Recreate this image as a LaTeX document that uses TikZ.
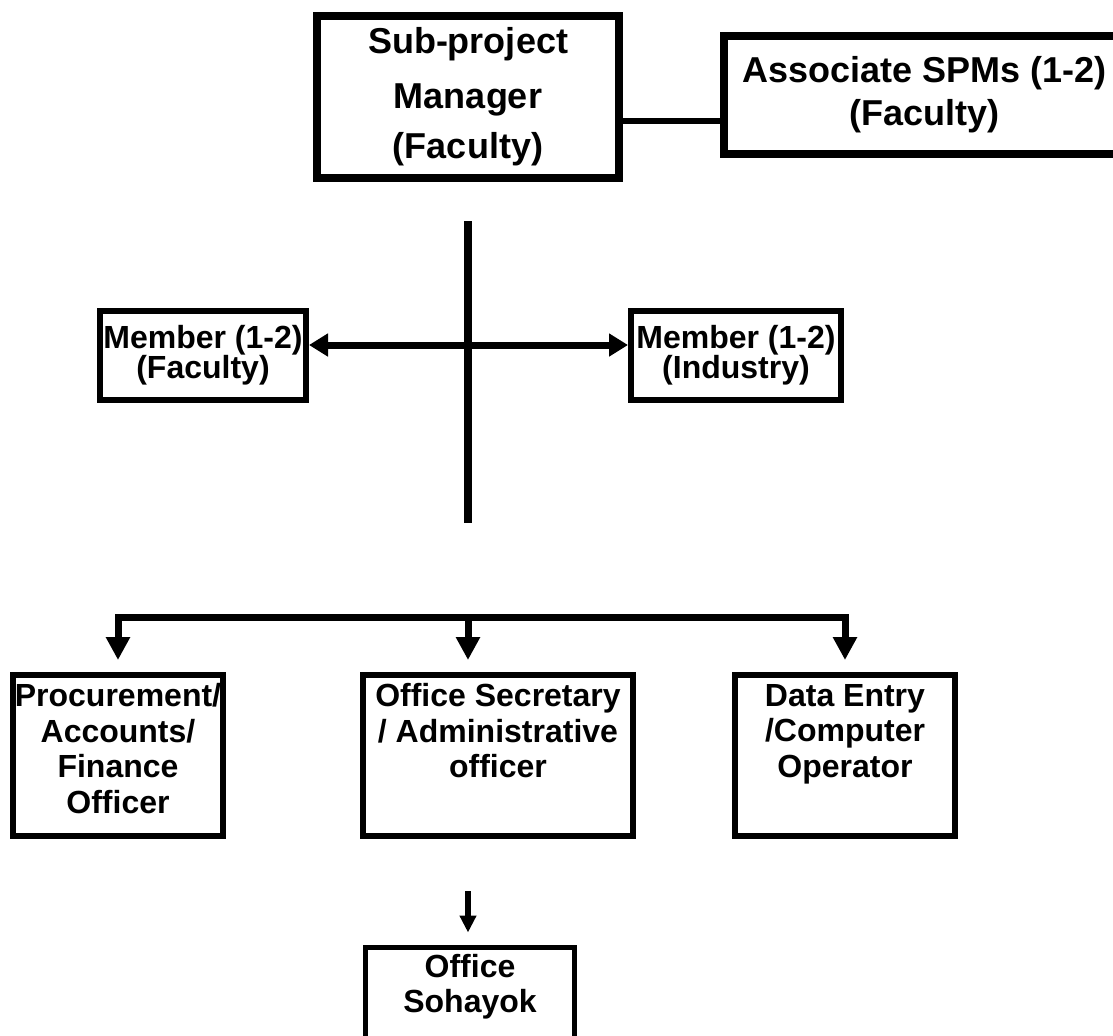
\documentclass[tikz,border=0pt]{standalone}
\usepackage{fontspec}
\setmainfont{Liberation Sans}
\usetikzlibrary{arrows.meta}

\begin{document}
\begin{tikzpicture}[x=0.5pt, y=-0.5pt,
    bx/.style={rectangle, draw=black, align=center, inner xsep=1pt,
               inner ysep=2pt, font=\bfseries},
    topbx/.style={bx, line width=4pt,
                  font=\fontsize{18pt}{25pt}\selectfont\bfseries},
    membx/.style={bx, line width=3pt, minimum height=44.5pt,
                  font=\fontsize{16pt}{15pt}\selectfont\bfseries},
    staffbx/.style={bx, line width=3pt, minimum height=80.5pt,
                    font=\fontsize{16pt}{17.75pt}\selectfont\bfseries},
    link/.style={draw=black, line width=3pt},
    arr/.style={-{Triangle[length=11.5pt, width=11.5pt]}, line width=3.5pt,
                line join=miter, shorten >=6pt},
    dblarr/.style={{Triangle[length=9.5pt, width=11pt]}-{Triangle[length=9.5pt, width=11pt]},
                   line width=3.5pt}
  ]
  \useasboundingbox (0,0) rectangle (1113,1035);

  % top level
  \node[topbx, minimum width=151pt, minimum height=81pt]
        (spm)   at (468,97)    {Sub-project\\[2.5pt]Manager\\(Faculty)};
  \node[topbx, minimum width=200.5pt, minimum height=59pt,
        font=\fontsize{18pt}{21.5pt}\selectfont\bfseries]
        (assoc) at (924.5,95)  {Associate SPMs (1-2)\\(Faculty)};
  \coordinate (tie) at (670,121);
  \draw[link] (spm.east |- tie) -- (assoc.west |- tie);

  % committee members
  \coordinate (spinetop) at (468,221);
  \coordinate (spinebot) at (468,523);
  \draw[link, line width=4pt] (spinetop) -- (spinebot);

  \node[membx, minimum width=103pt]
        (memfac) at (203,355.5) {Member (1-2)\\(Faculty)};
  \node[membx, minimum width=105pt]
        (memind) at (736,355.5) {Member (1-2)\\(Industry)};
  \coordinate (cross) at (468,345);
  \draw[dblarr] (memfac.east |- cross) -- (memind.west |- cross);

  % staff
  \node[staffbx, minimum width=105pt, text depth=6.9pt]
        (procure) at (118,755.5) {Procurement/\\Accounts/\\Finance\\Officer};
  \node[staffbx, minimum width=135pt, text depth=24.7pt]
        (office)  at (498,755.5) {Office Secretary\\/ Administrative\\officer};
  \node[staffbx, minimum width=110pt, text depth=24.7pt]
        (data)    at (845,755.5) {Data Entry\\/Computer\\Operator};

  \coordinate (hub) at (468,617);
  \draw[arr] (hub) -| (procure.north);
  \draw[arr] (hub) -- (hub |- office.north);
  \draw[arr] (hub) -| (data.north);

  \node[bx, line width=2.5pt, minimum width=104.5pt, minimum height=47.5pt,
        text depth=12pt, font=\fontsize{16pt}{17.5pt}\selectfont\bfseries]
        (sohayok) at (470,995) {Office\\Sohayok};
  \draw[-{Triangle[length=8.5pt, width=8pt]}, line width=3pt,
        shorten <=26pt, shorten >=6.25pt]
        (office.south -| hub) -- (sohayok.north -| hub);
\end{tikzpicture}
\end{document}
